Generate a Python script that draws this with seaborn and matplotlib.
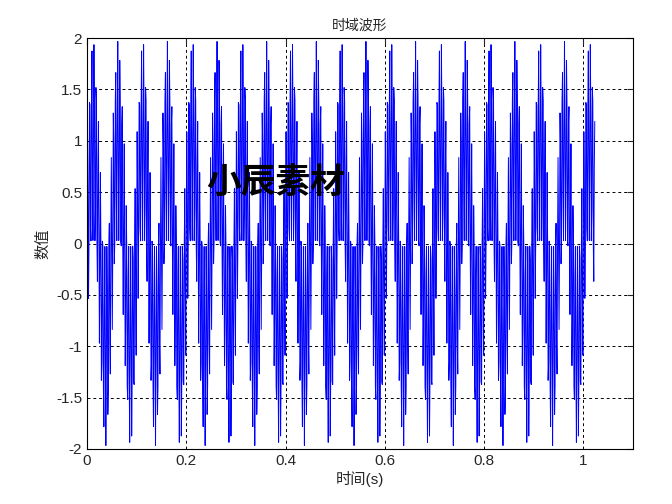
import numpy as np
import pandas as pd
import seaborn as sns
import matplotlib.pyplot as plt

# signal: two sine components, 1024 samples at 1 kHz
fs = 1000
n_samples = 1024
amps = [1.0, 0.97]
freqs = [20, 230]

t = np.arange(n_samples) / fs
y = sum(a * np.sin(2 * np.pi * f * t) for a, f in zip(amps, freqs))
df = pd.DataFrame({"t": t, "y": y})

x_ticks = [0, 0.2, 0.4, 0.6, 0.8, 1.0]
x_labels = ["0", "0.2", "0.4", "0.6", "0.8", "1"]
y_ticks = [-2, -1.5, -1, -0.5, 0, 0.5, 1, 1.5, 2]
y_labels = ["-2", "-1.5", "-1", "-0.5", "0", "0.5", "1", "1.5", "2"]

sns.set_style("white")
plt.rcParams['font.family'] = ['Liberation Sans', 'Noto Sans CJK SC', 'DejaVu Sans']

fig = plt.figure(figsize=(6.72, 5.04), dpi=100)
ax = fig.add_axes([87 / 672, 55 / 504, 546 / 672, 411 / 504])
sns.lineplot(data=df, x="t", y="y", color="#0000ff", linewidth=0.7, ax=ax)

ax.set_xlim(0, 1.1)
ax.set_ylim(-2, 2)
ax.set_xticks(x_ticks, x_labels)
ax.set_yticks(y_ticks, y_labels)
ax.tick_params(direction="in", length=4, labelsize=11, top=True, right=True)
ax.grid(True, color="black", linestyle=(0, (3, 3)), linewidth=0.7)
for s in ax.spines.values():
    s.set_color("black")
    s.set_linewidth(0.8)

ax.set_title("时域波形", fontsize=10)
ax.set_xlabel("时间(s)", fontsize=11, labelpad=2)
ax.set_ylabel("数值", fontsize=11)

fig.text(276 / 672, 1 - 182 / 504, "小辰素材", fontsize=25, fontweight="bold",
         style="italic", ha="center", va="center", color="black",
         family=["Noto Sans CJK SC"])

fig.savefig("out.png", dpi=100)
